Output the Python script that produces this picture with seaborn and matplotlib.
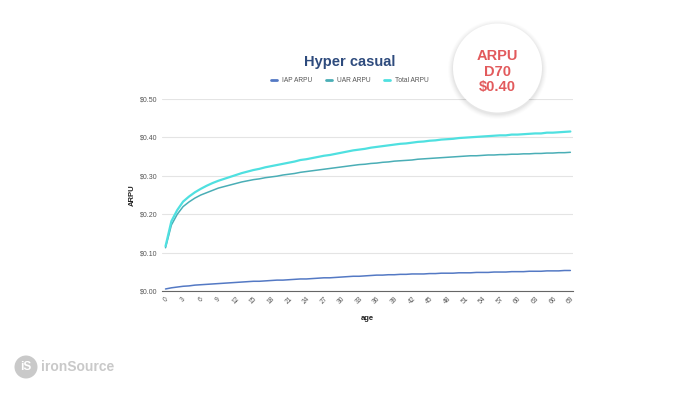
import matplotlib
matplotlib.use("Agg")
import matplotlib.pyplot as plt
from matplotlib.patches import Circle
from matplotlib.lines import Line2D
import seaborn as sns
import pandas as pd

# ---- data ----
age = list(range(70))
iap_arpu = [0.006, 0.009, 0.011, 0.013, 0.014, 0.016, 0.017, 0.018, 0.019, 0.020,
            0.021, 0.022, 0.023, 0.024, 0.025, 0.026, 0.026, 0.027, 0.028, 0.029,
            0.029, 0.030, 0.031, 0.032, 0.032, 0.033, 0.034, 0.035, 0.035, 0.036,
            0.037, 0.038, 0.039, 0.039, 0.040, 0.041, 0.042, 0.042, 0.043, 0.043,
            0.044, 0.044, 0.045, 0.045, 0.045, 0.046, 0.046, 0.047, 0.047, 0.047,
            0.048, 0.048, 0.048, 0.049, 0.049, 0.049, 0.050, 0.050, 0.050, 0.051,
            0.051, 0.051, 0.052, 0.052, 0.052, 0.053, 0.053, 0.053, 0.054, 0.054]
uar_arpu = [0.113, 0.172, 0.200, 0.220, 0.232, 0.242, 0.250, 0.256, 0.262, 0.268,
            0.272, 0.276, 0.280, 0.284, 0.287, 0.290, 0.292, 0.295, 0.297, 0.299,
            0.302, 0.304, 0.306, 0.309, 0.311, 0.313, 0.315, 0.317, 0.319, 0.321,
            0.323, 0.325, 0.327, 0.329, 0.330, 0.332, 0.333, 0.335, 0.336, 0.338,
            0.339, 0.340, 0.341, 0.343, 0.344, 0.345, 0.346, 0.347, 0.348, 0.349,
            0.350, 0.351, 0.352, 0.352, 0.353, 0.354, 0.354, 0.355, 0.355, 0.356,
            0.356, 0.357, 0.357, 0.358, 0.358, 0.359, 0.359, 0.360, 0.360, 0.361]
total_arpu = [0.117, 0.182, 0.211, 0.233, 0.246, 0.257, 0.266, 0.274, 0.281, 0.287,
              0.292, 0.297, 0.302, 0.307, 0.311, 0.315, 0.318, 0.322, 0.325, 0.328,
              0.331, 0.334, 0.337, 0.341, 0.343, 0.346, 0.349, 0.352, 0.354, 0.357,
              0.360, 0.363, 0.366, 0.368, 0.370, 0.373, 0.375, 0.377, 0.379, 0.381,
              0.383, 0.384, 0.386, 0.388, 0.389, 0.391, 0.392, 0.394, 0.395, 0.396,
              0.398, 0.399, 0.400, 0.401, 0.402, 0.403, 0.404, 0.405, 0.405, 0.407,
              0.407, 0.408, 0.409, 0.410, 0.410, 0.412, 0.412, 0.413, 0.414, 0.415]
series_names = ["IAP ARPU", "UAR ARPU", "Total ARPU"]
x_ticks = list(range(0, 70, 3))
y_ticks = [0.0, 0.1, 0.2, 0.3, 0.4, 0.5]
title = "Hyper casual"
badge_text = "ARPU\nD70\n$0.40"

df = pd.DataFrame({
    "age": age * 3,
    "ARPU": iap_arpu + uar_arpu + total_arpu,
    "series": [series_names[0]] * 70 + [series_names[1]] * 70 + [series_names[2]] * 70,
})

sns.set_theme(style="white")
plt.rcParams["font.family"] = ["Liberation Sans", "DejaVu Sans"]

fig = plt.figure(figsize=(7.0, 3.94), dpi=100)
ax = fig.add_axes([0.231, 0.2607, 0.588, 0.4886])

palette = {"IAP ARPU": "#5479c4", "UAR ARPU": "#4aaeb6", "Total ARPU": "#4fe0e0"}
sns.lineplot(data=df, x="age", y="ARPU", hue="series", hue_order=series_names,
             palette=palette, ax=ax, legend=False, linewidth=1.1)
ax.lines[2].set_linewidth(1.6)

ax.set_xlim(-0.65, 69.5)
ax.set_ylim(0, 0.5)
ax.set_yticks(y_ticks)
ax.set_yticklabels([f"${v:.2f}" for v in y_ticks], fontsize=5, color="#555555")
ax.set_xticks(x_ticks)
ax.set_xticklabels([str(v) for v in x_ticks], fontsize=4.8, color="#555555", rotation=45)
ax.tick_params(axis="both", length=0, pad=3)
ax.grid(axis="y", color="#e4e4e4", linewidth=0.8)
ax.grid(axis="x", visible=False)
for s in ["top", "right", "left"]:
    ax.spines[s].set_visible(False)
ax.spines["bottom"].set_color("#666666")
ax.spines["bottom"].set_linewidth(0.8)
ax.set_xlabel("age", fontsize=5.5, fontweight="bold", color="#222222", labelpad=7)
ax.set_ylabel("ARPU", fontsize=5.5, fontweight="bold", color="#222222", labelpad=3)

fig.text(0.5, 0.843, title, ha="center", va="center", fontsize=10.5,
         fontweight="bold", color="#2e4b7d")

handles = [Line2D([0], [0], color=palette[n], lw=2) for n in series_names]
fig.legend(handles, series_names, loc="center", bbox_to_anchor=(0.5, 0.795), ncol=3,
           frameon=False, fontsize=4.8, handlelength=0.9, columnspacing=2.0,
           handletextpad=0.8, labelcolor="#555555")

# badge circle with soft shadow
cx, cy, r = 4.975, 3.94 - 0.68, 0.445
for i, a in enumerate([0.012, 0.015, 0.018, 0.022, 0.028]):
    fig.add_artist(Circle((cx, cy - 0.015), r + 0.05 - i * 0.01, transform=fig.dpi_scale_trans,
                          facecolor="#000000", alpha=a, edgecolor="none"))
fig.add_artist(Circle((cx, cy), r, transform=fig.dpi_scale_trans,
                      facecolor="white", edgecolor="none"))
fig.text(cx / 7.0, (3.94 - 0.715) / 3.94, badge_text, ha="center", va="center", fontsize=10.5,
         fontweight="bold", color="#e25a5c", linespacing=1.1)

# logo
fig.add_artist(Circle((0.26, 3.94 - 3.67), 0.115, transform=fig.dpi_scale_trans,
                      facecolor="#c9c9c9", edgecolor="none"))
fig.text(0.26 / 7.0, (3.94 - 3.67) / 3.94, "iS", ha="center", va="center",
         fontsize=8.5, fontweight="bold", color="white")
fig.text(0.41 / 7.0, (3.94 - 3.67) / 3.94, "ironSource", ha="left", va="center",
         fontsize=10, fontweight="bold", color="#c9c9c9")

fig.savefig("out.png", dpi=100, facecolor="white")
